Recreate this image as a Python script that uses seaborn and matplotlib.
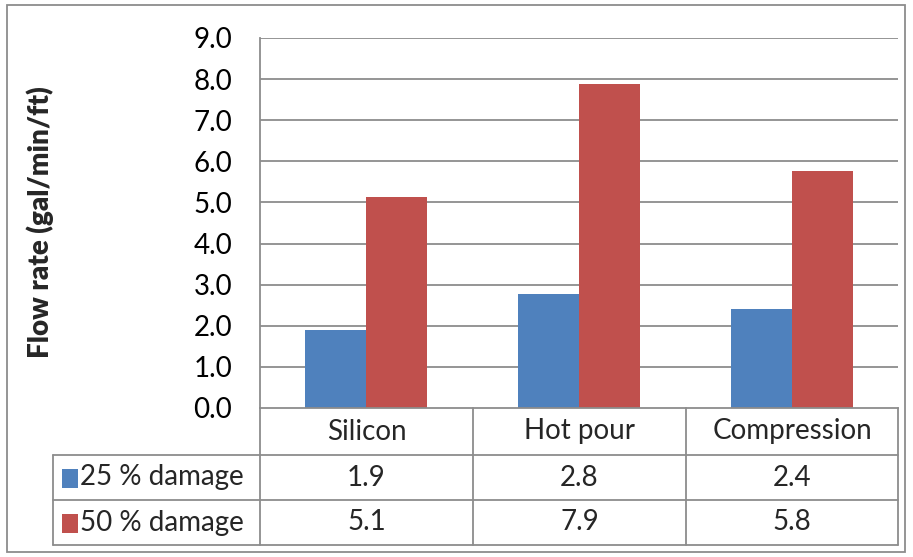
import matplotlib
matplotlib.use("Agg")
import matplotlib.pyplot as plt
from matplotlib.lines import Line2D
from matplotlib.patches import Rectangle
import seaborn as sns
import pandas as pd

categories = ["Silicon", "Hot pour", "Compression"]
series_names = ["25 % damage", "50 % damage"]
damage_25 = [1.89, 2.78, 2.41]
damage_50 = [5.14, 7.87, 5.77]
y_ticks = [0, 1, 2, 3, 4, 5, 6, 7, 8, 9]
colors = ["#4F81BD", "#C0504D"]

df = pd.DataFrame({
    "category": categories * 2,
    "series": [series_names[0]] * 3 + [series_names[1]] * 3,
    "value": damage_25 + damage_50,
})

sns.set_theme(style="white")
plt.rcParams["font.family"] = ["Lato", "DejaVu Sans"]

W, H = 913, 557
fig = plt.figure(figsize=(W / 100, H / 100), dpi=100)

def fx(x):
    return x / W

def fy(y):
    return 1 - y / H

ax_l, ax_r, ax_t, ax_b = 260, 898, 38, 408
ax = fig.add_axes([fx(ax_l), fy(ax_b), fx(ax_r - ax_l), (ax_b - ax_t) / H])

sns.barplot(data=df, x="category", y="value", hue="series", order=categories,
            hue_order=series_names, palette=colors, width=0.573, ax=ax,
            legend=False, saturation=1, linewidth=0)

grid_c = "#8C8C8C"
ax.set_ylim(0, 9)
ax.set_xlim(-0.5, 2.5)
ax.set_yticks(y_ticks)
ax.set_yticklabels([f"{v:.1f}" for v in y_ticks], fontsize=20, color="#000000")
ax.tick_params(axis="y", length=0, pad=20)
ax.set_xticks([])
ax.set_xlabel("")
ax.set_ylabel("")
for v in y_ticks[1:]:
    ax.axhline(v, color=grid_c, lw=1.3, zorder=0)
for s in ["top", "right"]:
    ax.spines[s].set_visible(False)
ax.spines["left"].set_color(grid_c)
ax.spines["left"].set_linewidth(1.3)
ax.spines["bottom"].set_color(grid_c)
ax.spines["bottom"].set_linewidth(1.3)

fig.text(fx(40), fy(222), "Flow rate (gal/min/ft)", rotation=90, ha="center",
         va="center", fontsize=20, fontweight="heavy")

# data table
lw = 1.3
def hline(x0, x1, y):
    fig.add_artist(Line2D([fx(x0), fx(x1)], [fy(y), fy(y)], color=grid_c, lw=lw))

def vline(x, y0, y1):
    fig.add_artist(Line2D([fx(x), fx(x)], [fy(y0), fy(y1)], color=grid_c, lw=lw))

col_edges = [260, 473, 686, 898]
row_edges = [408, 455, 500, 545]
tab_left = 53
hline(tab_left, 898, 455)
hline(tab_left, 898, 500)
hline(tab_left, 898, 545)
for x in col_edges:
    vline(x, 408, 545)
vline(tab_left, 455, 545)

tfs = 20
for i, cat in enumerate(categories):
    cx = (col_edges[i] + col_edges[i + 1]) / 2
    fig.text(fx(cx), fy((row_edges[0] + row_edges[1]) / 2), cat, ha="center",
             va="center", fontsize=tfs)

for r, (name, vals, c) in enumerate(zip(series_names, [damage_25, damage_50], colors)):
    cy = (row_edges[r + 1] + row_edges[r + 2]) / 2
    fig.add_artist(Rectangle((fx(62), fy(cy + 10)), fx(16), 19 / H,
                             transform=fig.transFigure, color=c, lw=0))
    fig.text(fx(80), fy(cy), name, ha="left", va="center", fontsize=tfs)
    for i, v in enumerate(vals):
        cx = (col_edges[i] + col_edges[i + 1]) / 2
        fig.text(fx(cx), fy(cy), f"{v:.1f}", ha="center", va="center", fontsize=tfs)

# outer chart border
fig.add_artist(Rectangle((fx(7), fy(552)), fx(898), (552 - 5) / H,
                         transform=fig.transFigure, fill=False,
                         edgecolor="#8C8C8C", lw=1.3))

fig.savefig("out.png", dpi=100)
